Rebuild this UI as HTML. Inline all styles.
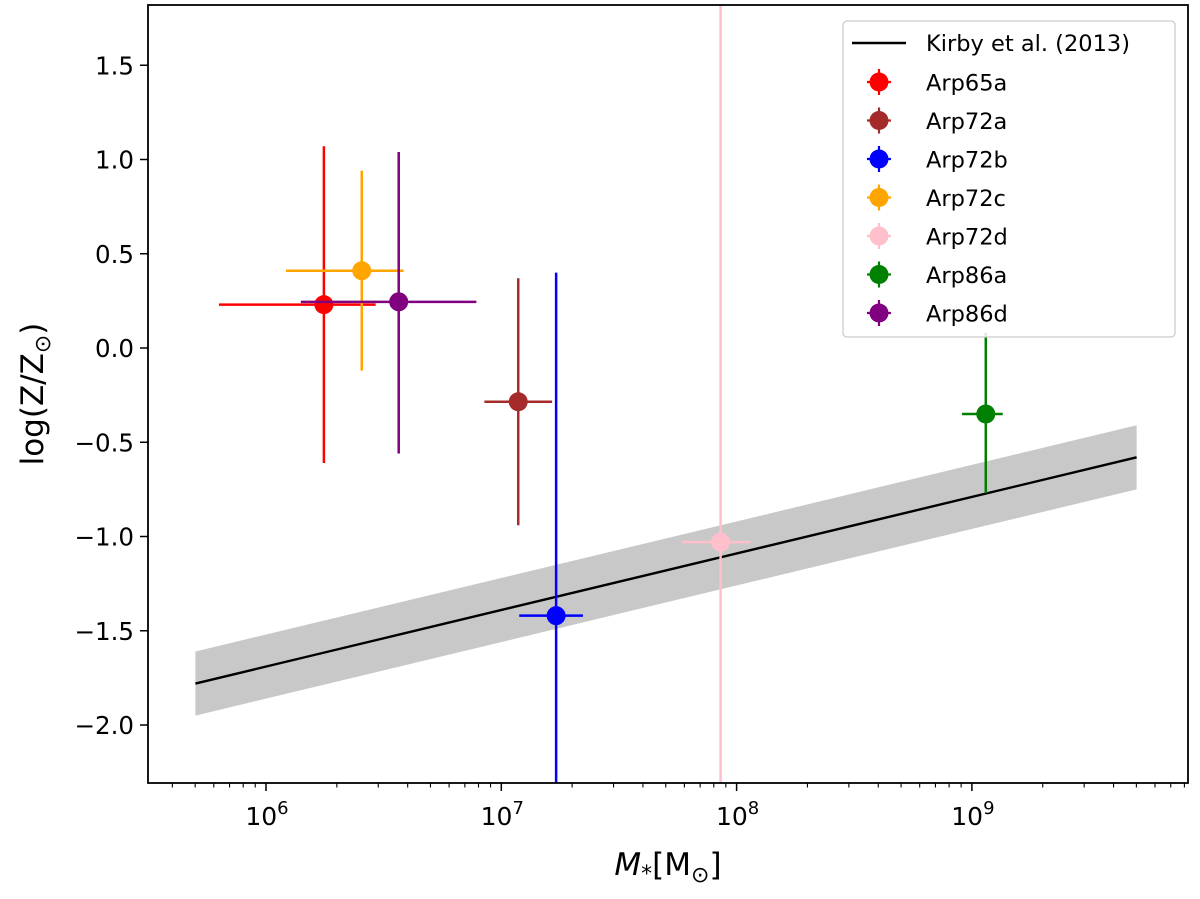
<!DOCTYPE html>
<html><head><meta charset="utf-8"><style>
body{margin:0;background:#fff;}
svg text{font-family:"DejaVu Sans","Liberation Sans",sans-serif;}
</style></head><body>
<svg id="c" width="1200" height="894" xmlns="http://www.w3.org/2000/svg"></svg>
<script>
const names=["Arp65a","Arp72a","Arp72b","Arp72c","Arp72d","Arp86a","Arp86d"];
const colors=["#ff0000","#a52a2a","#0000ff","#ffa500","#ffc0cb","#008000","#800080"];
const logM=[6.246,7.072,7.233,6.407,7.932,9.059,6.564];
const logMlo=[5.80,6.928,7.076,6.085,7.767,8.958,6.148];
const logMhi=[6.466,7.216,7.347,6.585,8.059,9.131,6.894];
const Z=[0.23,-0.285,-1.42,0.41,-1.03,-0.35,0.245];
const Zhi=[1.07,0.37,0.40,0.94,2.5,0.08,1.04];
const Zlo=[-0.61,-0.94,-2.5,-0.12,-2.5,-0.77,-0.56];
const yTicks=[1.5,1.0,0.5,0.0,-0.5,-1.0,-1.5,-2.0];
const yTickLabels=["1.5","1.0","0.5","0.0","\u22120.5","\u22121.0","\u22121.5","\u22122.0"];
const xDecades=[6,7,8,9];
const kirbyLogM=[5.7,9.7];
const kirbyA=-1.69, kirbyB=0.30, kirbyScatter=0.17;

const L=148,R=1188,T=5,B=783;
const X=v=>266+(v-6)*235.3;
const Y=v=>348-v*188.5;
const svg=document.getElementById('c');
const NS="http://www.w3.org/2000/svg";
function el(t,a,p){const e=document.createElementNS(NS,t);for(const k in a)e.setAttribute(k,a[k]);(p||svg).appendChild(e);return e;}
const defs=el('defs',{});const cp=el('clipPath',{id:'clip'},defs);el('rect',{x:L,y:T,width:R-L,height:B-T},cp);
const g=el('g',{'clip-path':'url(#clip)'});


const k=v=>kirbyA+kirbyB*(v-6);
const band=el('polygon',{points:`${X(kirbyLogM[0])},${Y(k(kirbyLogM[0])+kirbyScatter)} ${X(kirbyLogM[1])},${Y(k(kirbyLogM[1])+kirbyScatter)} ${X(kirbyLogM[1])},${Y(k(kirbyLogM[1])-kirbyScatter)} ${X(kirbyLogM[0])},${Y(k(kirbyLogM[0])-kirbyScatter)}`,fill:'#c8c8c8'},g);


const kl=el('line',{x1:X(kirbyLogM[0]),y1:Y(k(kirbyLogM[0])),x2:X(kirbyLogM[1]),y2:Y(k(kirbyLogM[1])),stroke:'#000','stroke-width':2.4},g);


for(let i=0;i<names.length;i++){
 const pg=el('g',{},g);
 
 
 el('line',{x1:X(logMlo[i]),x2:X(logMhi[i]),y1:Y(Z[i]),y2:Y(Z[i]),stroke:colors[i],'stroke-width':2.5},pg);
 el('line',{x1:X(logM[i]),x2:X(logM[i]),y1:Y(Zhi[i]),y2:Y(Zlo[i]),stroke:colors[i],'stroke-width':2.5},pg);
 el('circle',{cx:X(logM[i]),cy:Y(Z[i]),r:9.5,fill:colors[i]},pg);
}
const fr=el('rect',{x:L,y:T,width:R-L,height:B-T,fill:'none',stroke:'#000','stroke-width':1.8});


yTicks.forEach((v,i)=>{
 el('line',{x1:L-8,x2:L,y1:Y(v),y2:Y(v),stroke:'#000','stroke-width':1.5});
 const t=el('text',{x:L-14,y:Y(v)+9,'text-anchor':'end','font-size':24.5},svg);t.textContent=yTickLabels[i];
 
 
});
for(let d=5;d<=9;d++){for(let m=1;m<10;m++){const lv=d+Math.log10(m);const x=X(lv);if(x<L||x>R)continue;
 el('line',{x1:x,x2:x,y1:B,y2:B+(m===1?8:4.5),stroke:'#000','stroke-width':m===1?1.5:1.1});}}
xDecades.forEach(d=>{
 const t=el('text',{x:X(d)+1,y:B+42,'text-anchor':'middle','font-size':25});
 t.innerHTML='10<tspan dy="-11" font-size="18">'+d+'</tspan>';
 
 
});
const xt=el('text',{x:668,y:875,'text-anchor':'middle','font-size':31});
xt.innerHTML='<tspan font-style="italic">M</tspan><tspan font-size="22" dy="6">*</tspan><tspan dy="-6">[M</tspan><tspan font-size="22" dy="7">\u2299</tspan><tspan dy="-7">]</tspan>';


const yt=el('text',{x:0,y:0,'text-anchor':'middle','font-size':31,transform:'translate(43,394) rotate(-90)'});
yt.innerHTML='log(Z/Z<tspan font-size="22" dy="7">\u2299</tspan><tspan dy="-7">)</tspan>';


const lg=el('g',{});


el('rect',{x:843,y:21,width:332,height:316,rx:4,fill:'#fff','fill-opacity':0.85,stroke:'#ccc','stroke-width':1.3},lg);
el('line',{x1:852,x2:906,y1:43,y2:43,stroke:'#000','stroke-width':2.4},lg);
let t0=el('text',{x:926,y:51,'font-size':22.5},lg);t0.textContent='Kirby et al. (2013)';
for(let i=0;i<names.length;i++){
 const y=82+i*38.5;
 const e=el('g',{},lg);
 
 
 el('line',{x1:867,x2:891,y1:y,y2:y,stroke:colors[i],'stroke-width':2.2},e);
 el('line',{x1:879,x2:879,y1:y-13,y2:y+13,stroke:colors[i],'stroke-width':2.2},e);
 el('circle',{cx:879,cy:y,r:9.5,fill:colors[i]},e);
 const t=el('text',{x:926,y:y+8.5,'font-size':22.5},e);t.textContent=names[i];
}
</script>
</body></html>
